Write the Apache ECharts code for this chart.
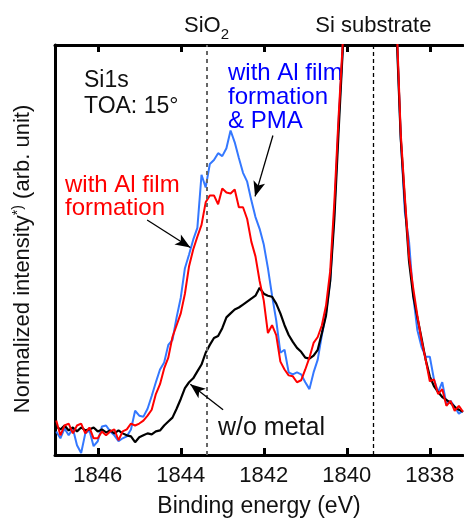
<!DOCTYPE html>
<html>
<head>
<meta charset="utf-8">
<script src="https://cdn.jsdelivr.net/npm/echarts@6/dist/echarts.min.js"></script>
<style>
  html, body { margin: 0; padding: 0; background: #fff; }
  #chart { width: 464px; height: 523px; }
</style>
</head>
<body>
<div id="chart"></div>
<script>
// binding energy (eV), 0.1 eV steps
const energy = [
  1847.0, 1846.9, 1846.8, 1846.7, 1846.6, 1846.5, 1846.4, 1846.3, 1846.2, 1846.1,
  1846.0, 1845.9, 1845.8, 1845.7, 1845.6, 1845.5, 1845.4, 1845.3, 1845.2, 1845.1,
  1845.0, 1844.9, 1844.8, 1844.7, 1844.6, 1844.5, 1844.4, 1844.3, 1844.2, 1844.1,
  1844.0, 1843.9, 1843.8, 1843.7, 1843.6, 1843.5, 1843.4, 1843.3, 1843.2, 1843.1,
  1843.0, 1842.9, 1842.8, 1842.7, 1842.6, 1842.5, 1842.4, 1842.3, 1842.2, 1842.1,
  1842.0, 1841.9, 1841.8, 1841.7, 1841.6, 1841.5, 1841.4, 1841.3, 1841.2, 1841.1,
  1841.0, 1840.9, 1840.8, 1840.7, 1840.6, 1840.5, 1840.4, 1840.3, 1840.2, 1840.1,
  1840.0, 1839.9, 1839.8, 1839.7, 1839.6, 1839.5, 1839.4, 1839.3, 1839.2, 1839.1,
  1839.0, 1838.9, 1838.8, 1838.7, 1838.6, 1838.5, 1838.4, 1838.3, 1838.2, 1838.1,
  1838.0, 1837.9, 1837.8, 1837.7, 1837.6, 1837.5, 1837.4, 1837.3, 1837.2
];

// w/o metal
const noMetal = [
  29, 26, 30, 25, 28, 24, 28, 25, 26, 28,
  24, 26, 23, 25, 22, 25, 22, 20, 19, 13,
  18, 20, 22, 21, 24, 25, 30, 34, 38, 47,
  57, 68, 74, 78, 85, 92, 104, 112, 119, 121,
  129, 140, 144, 148, 150, 153, 156, 159, 162, 170,
  164, 162, 161, 154, 144, 132, 122, 115, 109, 105,
  99, 98, 101, 107, 124, 142, 177, 240, 327, 410,
  500, 600, 700, 790, 850, 880, 870, 830, 760, 680,
  600, 520, 430, 322, 257, 197, 162, 140, 119, 97,
  80, 70, 64, 59, 56, 53, 49, 46, 44
];

// with Al film formation
const alFilm = [
  35, 20, 30, 32, 22, 30, 32, 22, 28, 17,
  17, 24, 20, 24, 26, 15, 24, 26, 32, 30,
  32, 35, 40, 46, 62, 72, 88, 99, 120, 132,
  144, 164, 192, 209, 222, 234, 257, 264, 264, 255,
  271, 267, 266, 270, 252, 252, 240, 217, 202, 177,
  157, 124, 132, 122, 95, 87, 81, 80, 74, 76,
  87, 99, 114, 120, 132, 152, 187, 257, 342, 417,
  510, 610, 710, 800, 860, 890, 880, 840, 770, 690,
  610, 530, 440, 327, 262, 202, 170, 142, 117, 97,
  75, 77, 62, 67, 50, 55, 45, 50, 44
];

// with Al film formation & PMA
const alFilmPma = [
  24, 17, 27, 20, 27, 10, 2, 22, 25, 9,
  14, 29, 30, 24, 20, 14, 17, 19, 26, 45,
  40, 39, 47, 60, 74, 87, 94, 112, 117, 140,
  160, 190, 204, 219, 231, 285, 272, 296, 300, 307,
  304, 312, 330, 318, 302, 287, 278, 259, 242, 230,
  214, 190, 162, 137, 104, 107, 84, 82, 84, 82,
  74, 67, 84, 97, 122, 144, 177, 247, 337, 412,
  505, 605, 705, 795, 855, 885, 875, 835, 765, 685,
  605, 525, 435, 322, 247, 217, 162, 127, 110, 100,
  100, 77, 64, 74, 52, 55, 49, 42, 45
];

const tickValues = [1846, 1844, 1842, 1840, 1838];
const sio2Energy = 1843.375;
const substrateEnergy = 1839.36;

const zip = arr => energy.map((e, i) => [e, arr[i]]);

const FONT = '"Liberation Sans", Arial, Helvetica, sans-serif';

const chart = echarts.init(document.getElementById('chart'));

function arrow(from, to) {
  return [
    { coord: from, symbol: 'none' },
    { coord: to, symbol: 'arrow', symbolSize: [9, 15] }
  ];
}

const xCommon = {
  type: 'value',
  inverse: true,
  min: 1837.2,
  max: 1847.03,
  splitLine: { show: false },
  axisLine: { onZero: false, lineStyle: { color: '#000', width: 3 } },
  axisTick: {
    inside: true, length: 7, customValues: tickValues,
    lineStyle: { color: '#000', width: 3 }
  }
};

chart.setOption({
  animation: false,
  grid: { left: 55, right: 1, top: 45, bottom: 61 },
  xAxis: [
    Object.assign({}, xCommon, {
      position: 'bottom',
      name: 'Binding energy (eV)',
      nameLocation: 'middle',
      nameGap: 40,
      nameTextStyle: { fontFamily: FONT, fontSize: 23, color: '#111' },
      axisLabel: {
        customValues: tickValues, margin: 10,
        formatter: v => String(v),
        fontFamily: FONT, fontSize: 22, color: '#111'
      }
    }),
    Object.assign({}, xCommon, {
      position: 'top',
      axisLabel: { show: false }
    })
  ],
  yAxis: {
    type: 'value',
    min: 0,
    max: 417,
    name: 'Normalized intensity{sup|*)} (arb. unit)',
    nameLocation: 'middle',
    nameGap: 20,
    nameRotate: 90,
    nameTextStyle: {
      fontFamily: FONT, fontSize: 22, color: '#111', lineHeight: 24,
      padding: [0, 0, 0, -18],
      rich: {
        sup: { fontFamily: FONT, fontSize: 14, color: '#111', verticalAlign: 'top', lineHeight: 24 }
      }
    },
    splitLine: { show: false },
    axisTick: { show: false },
    axisLabel: { show: false },
    axisLine: { show: true, lineStyle: { color: '#000', width: 3 } }
  },
  series: [
    {
      name: 'with Al film formation & PMA',
      type: 'line',
      data: zip(alFilmPma),
      showSymbol: false,
      symbol: 'none',
      clip: true,
      lineStyle: { color: '#3478ff', width: 2 }
    },
    {
      name: 'w/o metal',
      type: 'line',
      data: zip(noMetal),
      showSymbol: false,
      symbol: 'none',
      clip: true,
      lineStyle: { color: '#000', width: 2.2 },
      markLine: {
        silent: true,
        symbol: ['none', 'none'],
        data: [
          {
            xAxis: sio2Energy,
            lineStyle: { color: '#666', width: 2, type: [4, 4] },
            label: {
              show: true, position: 'end', distance: 8,
              formatter: '{a|SiO}{b|2}',
              rich: {
                a: { fontFamily: FONT, fontSize: 22, color: '#111', lineHeight: 26, verticalAlign: 'bottom' },
                b: { fontFamily: FONT, fontSize: 15, color: '#111', lineHeight: 26, verticalAlign: 'bottom', padding: [0, 0, -5, 0] }
              }
            }
          },
          {
            xAxis: substrateEnergy,
            lineStyle: { color: '#000', width: 1.3, type: [4, 3] },
            label: {
              show: true, position: 'end', distance: 8,
              formatter: 'Si substrate',
              fontFamily: FONT, fontSize: 22, color: '#111'
            }
          },
          arrow([1844.81, 239], [1843.77, 211]),
          arrow([1841.78, 325], [1842.21, 263]),
          arrow([1842.98, 46], [1843.77, 72])
        ].map(d => {
          if (Array.isArray(d)) {
            d[0].lineStyle = { color: '#000', width: 1.3, type: 'solid' };
            d[0].label = { show: false };
          }
          return d;
        })
      }
    },
    {
      name: 'with Al film formation',
      type: 'line',
      data: zip(alFilm),
      showSymbol: false,
      symbol: 'none',
      clip: true,
      lineStyle: { color: '#ff0000', width: 2 }
    }
  ],
  graphic: [
    { type: 'text', style: { x: 84, y: 81, text: 'Si1s', font: '23px ' + FONT, fill: '#111', verticalAlign: 'middle' } },
    { type: 'text', style: { x: 84, y: 107, text: 'TOA: 15°', font: '23px ' + FONT, fill: '#111', verticalAlign: 'middle' } },
    { type: 'text', style: { x: 228, y: 73, text: 'with Al film', font: '24px ' + FONT, fill: '#0000ff', verticalAlign: 'middle' } },
    { type: 'text', style: { x: 228, y: 97, text: 'formation', font: '24px ' + FONT, fill: '#0000ff', verticalAlign: 'middle' } },
    { type: 'text', style: { x: 228, y: 121, text: '& PMA', font: '24px ' + FONT, fill: '#0000ff', verticalAlign: 'middle' } },
    { type: 'text', style: { x: 65, y: 185, text: 'with Al film', font: '24px ' + FONT, fill: '#ff0000', verticalAlign: 'middle' } },
    { type: 'text', style: { x: 65, y: 208, text: 'formation', font: '24px ' + FONT, fill: '#ff0000', verticalAlign: 'middle' } },
    { type: 'text', style: { x: 218, y: 428, text: 'w/o metal', font: '25px ' + FONT, fill: '#111', verticalAlign: 'middle' } }
  ]
});
</script>
</body>
</html>
